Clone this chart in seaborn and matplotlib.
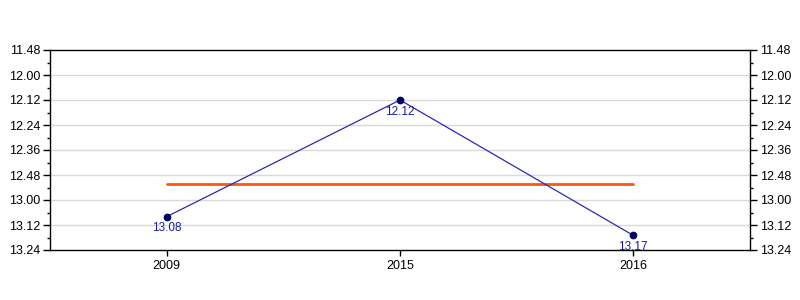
import matplotlib
matplotlib.use("Agg")
import matplotlib.pyplot as plt
import seaborn as sns
import pandas as pd
import numpy as np
from matplotlib.ticker import FixedLocator, FuncFormatter, MultipleLocator

years = ["2009", "2015", "2016"]
times = ["13.08", "12.12", "13.17"]  # minutes.seconds

def to_sec(t):
    m, s = t.split(".")
    return int(m) * 60 + int(s)

def fmt(v, pos=None):
    v = int(round(v))
    return f"{v // 60}.{v % 60:02d}"

secs = [to_sec(t) for t in times]
df = pd.DataFrame({"year": years, "sec": secs})
df["mean"] = df["sec"].mean()

sns.set_theme(style="white")
plt.rcParams["font.family"] = ["Liberation Sans", "DejaVu Sans"]

fig = plt.figure(figsize=(8, 3), dpi=100)
ax = fig.add_axes([0.0625, 1 / 6, 0.875, 2 / 3])

sns.lineplot(data=df, x="year", y="mean", ax=ax, color="#ff5511", linewidth=2, sort=False)
sns.lineplot(data=df, x="year", y="sec", ax=ax, color="#2b2bb0", linewidth=0.9, sort=False,
             marker="o", markersize=4.8, markerfacecolor="#000066", markeredgecolor="#000066")

for i, (y, s, t) in enumerate(zip(years, secs, times)):
    ax.annotate(t, (i, s), xytext=(0, -4), textcoords="offset points",
                ha="center", va="top", fontsize=8.5, color="#1a1aa0")

ymin, ymax = to_sec("11.48"), to_sec("13.24")
ax.set_xlim(-0.5, 2.5)
ax.set_ylim(ymax, ymin)
ax.yaxis.set_major_locator(MultipleLocator(12))
ax.yaxis.set_minor_locator(MultipleLocator(6))
ax.yaxis.set_major_formatter(FuncFormatter(fmt))
ax.set_xlabel("")
ax.set_ylabel("")

for yv in range(ymin + 12, ymax, 12):
    ax.axhline(yv, color="#d9d9d9", linewidth=1, zorder=0)

for sp in ax.spines.values():
    sp.set_visible(True)
    sp.set_color("black")
    sp.set_linewidth(1)

ax.tick_params(axis="y", which="major", left=True, right=True, labelleft=True, labelright=True,
               direction="out", length=5, width=1, color="black", labelsize=9, labelcolor="black", pad=2)
ax.tick_params(axis="y", which="minor", left=True, right=True, direction="out", length=2.5, width=1, color="black")
ax.tick_params(axis="x", which="major", bottom=True, top=False, direction="out", length=4, width=1,
               color="black", labelsize=9, labelcolor="black", pad=3)

fig.savefig("out.png", dpi=100)
